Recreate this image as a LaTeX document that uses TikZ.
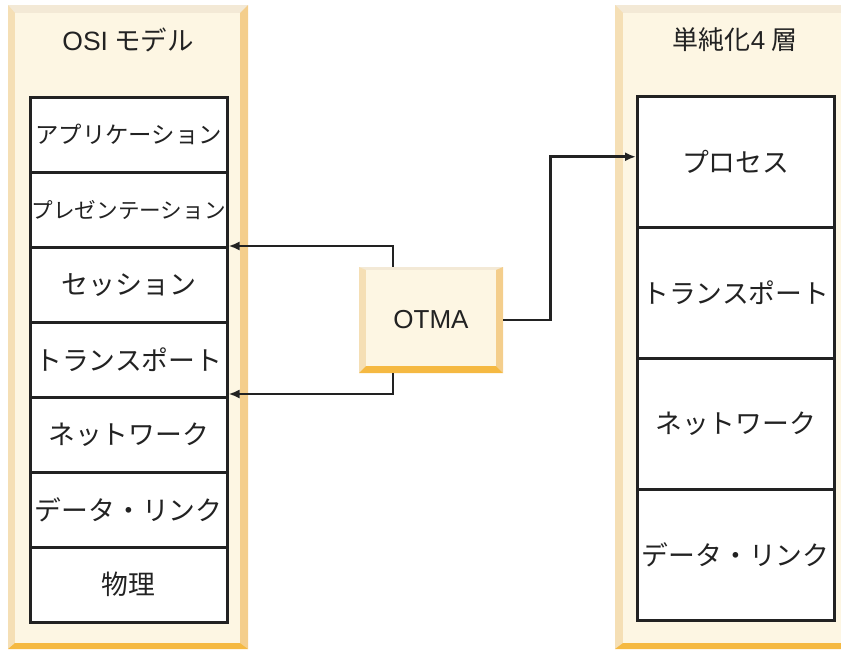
\documentclass[tikz,border=0pt]{standalone}
\usepackage{fontspec}
\setmainfont{Noto Sans CJK JP}
\newfontfamily\latinfont{Liberation Sans}
\usetikzlibrary{arrows.meta}
\definecolor{bevtop}{HTML}{F3E9D6}
\definecolor{bevleft}{HTML}{F5DFB5}
\definecolor{bevright}{HTML}{F4CE8C}
\definecolor{bevbot}{HTML}{F5B942}
\definecolor{panelin}{HTML}{FDF6E3}
\definecolor{ink}{HTML}{222222}
\newcommand{\bevelbox}[8]{%
  \fill[bevtop] (#1,#2) rectangle (#3,#4);
  \fill[bevleft] (#1,#2) -- ({#1+#6},{#2+#5}) -- ({#1+#6},{#4-#8}) -- (#1,#4) -- cycle;
  \fill[bevright] (#3,#2) -- ({#3-#7},{#2+#5}) -- ({#3-#7},{#4-#8}) -- (#3,#4) -- cycle;
  \fill[bevbot] (#1,#4) -- ({#1+#6},{#4-#8}) -- ({#3-#7},{#4-#8}) -- (#3,#4) -- cycle;
  \fill[panelin] ({#1+#6},{#2+#5}) rectangle ({#3-#7},{#4-#8});
}
\begin{document}
\begin{tikzpicture}[x=1pt,y=-1pt,
  txt/.style={text=ink,font=\fontsize{26.5}{30}\selectfont,inner sep=0pt},
  layerL/.style={draw=ink,line width=2.5pt,fill=white,minimum width=197pt,minimum height=75pt,inner sep=0pt,anchor=north west,text=ink,font=\fontsize{26.8}{30}\selectfont},
  layerR/.style={draw=ink,line width=2.5pt,fill=white,minimum width=197pt,minimum height=131pt,inner sep=0pt,anchor=north west,text=ink,font=\fontsize{26.8}{30}\selectfont},
  arr/.style={draw=ink,line width=2.6pt,-{Latex[length=11pt,width=9pt]}}]
\useasboundingbox (0,0) rectangle (841,649);
\clip (0,0) rectangle (841,649);
% panels
\bevelbox{8}{5}{248}{649}{8}{7}{8}{6}
\bevelbox{615}{5}{850}{649}{8}{8}{8}{6}
\node[txt] (tL) at (128,40) {{\latinfont OSI} モデル};
\node[txt,font=\fontsize{26}{30}\selectfont] (tR) at (735,40) {単純化{\latinfont 4} 層};
% left layers
\node[layerL,font=\fontsize{23.4}{26}\selectfont] (app) at (29,96) {アプリケーション};
\node[layerL,font=\fontsize{21.6}{24}\selectfont] (pres) at (29,171) {プレゼンテーション};
\node[layerL,font=\fontsize{27}{30}\selectfont] (sess) at (29,246) {セッション};
\node[layerL] (trL) at (29,321) {トランスポート};
\node[layerL] (netL) at (29,396) {ネットワーク};
\node[layerL] (dlL) at (29,471) {データ・リンク};
\node[layerL] (phy) at (29,546) {物理};
% right layers
\node[layerR] (proc) at (636,95) {プロセス};
\node[layerR] (trR) at (636,226) {トランスポート};
\node[layerR] (netR) at (636,357) {ネットワーク};
\node[layerR] (dlR) at (636,488) {データ・リンク};
% OTMA
\bevelbox{359}{267}{503}{373}{3}{7}{7}{7}
\node[txt,font=\latinfont\fontsize{26}{30}\selectfont,minimum width=144pt,minimum height=106pt] (otma) at (431,320) {OTMA};
% connectors
\draw[arr] ([xshift=-38pt]otma.north) |- (sess.north east);
\draw[arr] ([xshift=-38pt]otma.south) |- ([yshift=2pt]netL.north east);
\draw[arr] (otma.east) -- ++(47,0) |- ([yshift=5pt]proc.west);
\end{tikzpicture}
\end{document}
